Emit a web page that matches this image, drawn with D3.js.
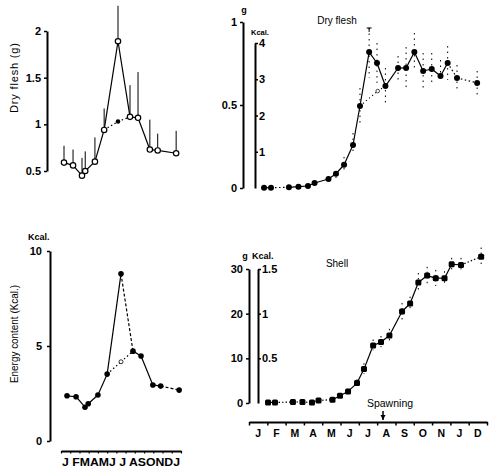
<!DOCTYPE html>
<html><head><meta charset="utf-8">
<script src="https://cdn.jsdelivr.net/npm/d3@7"></script>
<style>
body{margin:0;background:#fff;}
svg{display:block;font-family:"Liberation Sans",Arial,sans-serif;}
</style></head><body>
<svg id="c" width="500" height="474"></svg>
<script>
// ---------- data ----------
const monthLettersLeft = "J FMAMJ J ASONDJ";
const monthsRight = ["J","F","M","A","M","J","J","A","S","O","N","J","D"];

// left panels: sampling time (months from start of January)
const leftT      = [0.65, 1.63, 2.6, 2.95, 4.0, 5.0, 6.5, 7.8, 8.67, 9.95, 10.8, 12.8];
const dryFlesh   = [0.59, 0.56, 0.45, 0.50, 0.60, 0.94, 1.89, 1.08, 1.07, 0.73, 0.72, 0.69];
const dryFleshHi = [0.77, 0.73, 0.64, 0.71, 0.86, 1.17, 2.27, 1.42, 1.56, 1.05, 0.90, 0.93];
const dryFleshAlt = 1.03;     // value at leftT[6] without spawners
const energy     = [2.38, 2.33, 1.78, 1.96, 2.42, 3.52, 8.8, 4.73, 4.47, 2.95, 2.89, 2.68];
const energyAlt  = 4.17;

// right panels
const rightT = [1.04, 1.42, 2.40, 2.92, 3.44, 3.8, 4.56, 4.97, 5.41, 5.90, 6.28, 6.78, 7.21, 7.67, 8.36, 8.80, 9.25, 9.73, 10.2, 10.68, 11.07, 11.58, 12.68];
const dryFleshR   = [0.002, 0.002, 0.004, 0.008, 0.012, 0.03, 0.054, 0.086, 0.14, 0.259, 0.494, 0.819, 0.753, 0.614, 0.723, 0.723, 0.819, 0.705, 0.717, 0.675, 0.753, 0.663, 0.633];
const dryFleshRHi = [null, null, null, null, null, null, 0.07, 0.10, 0.187, 0.331, 0.602, 0.964, 0.873, 0.723, 0.795, 0.849, 0.934, 0.813, 0.813, 0.771, 0.855, 0.741, 0.705];
const dryFleshRLo = [null, null, null, null, null, null, 0.04, 0.06, 0.108, 0.199, 0.392, 0.663, 0.633, 0.512, 0.651, 0.602, 0.711, 0.602, 0.620, 0.651, 0.651, 0.578, 0.542];
const dryFleshRAlt = {t: 7.25, v: 0.584};
const shell   = [0.13, 0.13, 0.22, 0.22, 0.13, 0.58, 0.74, 1.63, 2.59, 4.46, 7.59, 12.88, 13.64, 15.13, 20.49, 22.28, 26.97, 28.53, 27.95, 27.95, 31.07, 30.9, 32.76];
const shellHi = [null, null, null, null, null, null, null, null, 3.2, 5.3, 8.9, 14.2, 15.0, 16.6, 22.4, 23.8, 29.1, 30.5, 29.8, 29.5, 32.5, 32.5, 34.8];
const shellLo = [null, null, null, null, null, null, null, null, 2.0, 3.8, 6.5, 11.8, 12.5, 13.8, 18.6, 20.5, 25.3, 26.5, 26.2, 26.2, 29.5, 29.2, 30.8];
const spawningT = 7.32;

// ---------- drawing ----------
const svg = d3.select("#c");
svg.append("rect").attr("width",500).attr("height",474).attr("fill","#fff");

function styleAxis(g, tickW){
  g.select(".domain").attr("stroke","#000").attr("stroke-width",2);
  g.selectAll(".tick line").attr("stroke","#000").attr("stroke-width",tickW||1.5);
  g.selectAll(".tick text").attr("fill","#000").attr("font-size",11).attr("font-weight","bold")
   .attr("font-family","'Liberation Sans',Arial,sans-serif");
}
function segs(g, xs, ys, x, y, dashed, dash){
  for(let i=0;i<xs.length-1;i++){
    g.append("line").attr("x1",x(xs[i])).attr("y1",y(ys[i])).attr("x2",x(xs[i+1])).attr("y2",y(ys[i+1]))
     .attr("stroke","#000").attr("stroke-width",1.2)
     .attr("stroke-dasharray", dashed.has(i) ? (dash||"2,2") : null);
  }
}
const lbl = (t, x, y, size, anchor, weight) => svg.append("text").text(t).attr("x",x).attr("y",y)
   .attr("font-size",size).attr("text-anchor",anchor||"start").attr("font-weight",weight||"bold").attr("fill","#000");

// ===== Top-left: Dry flesh (g) =====
{
  const x = d3.scaleLinear([0,13],[58,178]);
  const y = d3.scaleLinear([0.5,2],[171,31]);
  const ax = svg.append("g").attr("transform","translate(47,0)")
    .call(d3.axisLeft(y).tickValues([0.5,1,1.5,2]).tickFormat(d3.format("~g")).tickSize(3).tickSizeOuter(0).tickPadding(3));
  styleAxis(ax);
  const g = svg.append("g");
  leftT.forEach((t,i)=>{
    g.append("line").attr("x1",x(t)).attr("x2",x(t)).attr("y1",y(dryFlesh[i])).attr("y2",y(dryFleshHi[i]))
     .attr("stroke","#000").attr("stroke-width",1);
  });
  const ax2 = [leftT[5], leftT[6], leftT[7]], ay2 = [dryFlesh[5], dryFleshAlt, dryFlesh[7]];
  segs(g, ax2, ay2, x, y, new Set([0,1]), "1.5,2.5");
  g.append("circle").attr("cx",x(leftT[6])).attr("cy",y(dryFleshAlt)).attr("r",2.3).attr("fill","#000");
  segs(g, leftT, dryFlesh, x, y, new Set());
  g.selectAll("circle.o").data(leftT).join("circle").attr("class","o")
    .attr("cx",d=>x(d)).attr("cy",(d,i)=>y(dryFlesh[i])).attr("r",2.7)
    .attr("fill","#fff").attr("stroke","#000").attr("stroke-width",1.2);
  svg.append("text").text("Dry flesh (g)").attr("transform","translate(18,78) rotate(-90)")
    .attr("text-anchor","middle").attr("font-size",11).attr("textLength",70).attr("fill","#000");
}

// ===== Bottom-left: Energy content =====
{
  const x = d3.scaleLinear([0,13],[61,181]);
  const y = d3.scaleLinear([0,10],[441,251]);
  const ay = svg.append("g").attr("transform","translate(50,0)")
    .call(d3.axisLeft(y).tickValues([0,5,10]).tickSize(3).tickSizeOuter(0).tickPadding(5));
  styleAxis(ay);
  const axb = svg.append("g").attr("transform","translate(0,451)")
    .call(d3.axisBottom(x).tickValues(d3.range(0,14)).tickFormat("").tickSize(2.5).tickSizeOuter(0));
  styleAxis(axb, 1.2);
  svg.append("text").text(monthLettersLeft).attr("x",x(0)+1).attr("y",466).attr("font-size",11)
    .attr("font-weight","bold").attr("textLength",x(13)-x(0)-2).attr("lengthAdjust","spacingAndGlyphs").attr("fill","#000");
  lbl("Kcal.", 28, 240, 9);
  svg.append("text").text("Energy content (Kcal.)").attr("transform","translate(18,334) rotate(-90)")
    .attr("text-anchor","middle").attr("font-size",10.5).attr("textLength",98).attr("lengthAdjust","spacingAndGlyphs").attr("fill","#000");
  const g = svg.append("g");
  segs(g, [leftT[5],leftT[6],leftT[7]], [energy[5],energyAlt,energy[7]], x, y, new Set([0,1]), "1.5,2.5");
  g.append("circle").attr("cx",x(leftT[6])).attr("cy",y(energyAlt)).attr("r",2).attr("fill","#fff").attr("stroke","#000").attr("stroke-width",0.8);
  segs(g, leftT, energy, x, y, new Set([6,10]), "3,2");
  g.selectAll("circle.f").data(leftT).join("circle").attr("class","f")
    .attr("cx",d=>x(d)).attr("cy",(d,i)=>y(energy[i])).attr("r",2.8).attr("fill","#000");
}

// ===== Top-right: Dry flesh =====
{
  const x = d3.scaleLinear([0,13],[245,483]);
  const yg = d3.scaleLinear([0,1],[188,22]);
  const yk = d3.scaleLinear([0,4],[188,43]);
  const a1 = svg.append("g").attr("transform","translate(243,0)")
    .call(d3.axisLeft(yg).tickValues([0,0.5,1]).tickFormat(d3.format("~g")).tickSize(3).tickSizeOuter(0).tickPadding(3));
  styleAxis(a1);
  const a2 = svg.append("g").attr("transform","translate(255,0)")
    .call(d3.axisRight(yk).tickValues([1,2,3,4]).tickFormat(d3.format("~g")).tickSize(3).tickSizeOuter(0).tickPadding(1));
  styleAxis(a2);
  lbl("g", 244, 13, 9, "middle");
  lbl("Kcal.", 251, 35, 7.5);
  lbl("Dry flesh", 337, 24, 10, "middle", "normal");
  const g = svg.append("g");
  rightT.forEach((t,i)=>{
    if(dryFleshRHi[i]==null) return;
    g.append("line").attr("x1",x(t)).attr("x2",x(t)).attr("y1",yg(dryFleshRHi[i])).attr("y2",yg(dryFleshRLo[i]))
     .attr("stroke","#000").attr("stroke-width",1).attr("stroke-dasharray","1.5,4");
  });
  g.append("path").attr("d",`M${x(rightT[11])-2.5},${yg(dryFleshRHi[11])}h5M${x(rightT[11])},${yg(dryFleshRHi[11])}v4`).attr("stroke","#000").attr("stroke-width",1);
  segs(g, [rightT[10], dryFleshRAlt.t, rightT[13]], [dryFleshR[10], dryFleshRAlt.v, dryFleshR[13]], x, yg, new Set([0,1]), "1,3");
  g.append("circle").attr("cx",x(dryFleshRAlt.t)).attr("cy",yg(dryFleshRAlt.v)).attr("r",1.8).attr("fill","#fff").attr("stroke","#000").attr("stroke-width",0.7);
  segs(g, rightT, dryFleshR, x, yg, new Set([1,20,21]), "1.5,2.5");
  g.selectAll("circle.f").data(rightT).join("circle").attr("class","f")
    .attr("cx",d=>x(d)).attr("cy",(d,i)=>yg(dryFleshR[i])).attr("r",3).attr("fill","#000");
}

// ===== Bottom-right: Shell =====
{
  const x = d3.scaleLinear([0,13],[249,487]);
  const yg = d3.scaleLinear([0,30],[403,269]);
  const yk = d3.scaleLinear([0,1.5],[403,269]);
  const a1 = svg.append("g").attr("transform","translate(249,0)")
    .call(d3.axisLeft(yg).tickValues([0,10,20,30]).tickSize(3).tickSizeOuter(0).tickPadding(3));
  styleAxis(a1);
  const a2 = svg.append("g").attr("transform","translate(258,0)")
    .call(d3.axisRight(yk).tickValues([0.5,1,1.5]).tickFormat(d3.format("~g")).tickSize(3).tickSizeOuter(0).tickPadding(1));
  styleAxis(a2);
  lbl("g", 245, 259, 9, "middle");
  lbl("Kcal.", 252, 259, 9);
  lbl("Shell", 337, 267, 10, "middle", "normal");
  const axb = svg.append("g").attr("transform","translate(0,422)")
    .call(d3.axisBottom(x).tickValues(d3.range(0,14)).tickFormat("").tickSize(3.5).tickSizeOuter(0));
  styleAxis(axb, 1.5);
  svg.append("g").selectAll("text").data(monthsRight).join("text").text(d=>d)
    .attr("x",(d,i)=>x(i+0.5)).attr("y",437).attr("text-anchor","middle").attr("font-size",10.5).attr("font-weight","bold").attr("fill","#000");
  lbl("Spawning", x(spawningT)+7, 407, 10.5, "middle", "normal");
  svg.append("line").attr("x1",x(spawningT)).attr("x2",x(spawningT)).attr("y1",411).attr("y2",420).attr("stroke","#000").attr("stroke-width",1.5);
  svg.append("path").attr("d",`M${x(spawningT)-2.5},${415}L${x(spawningT)+2.5},${415}L${x(spawningT)},${420}Z`).attr("fill","#000");
  const g = svg.append("g");
  rightT.forEach((t,i)=>{
    if(shellHi[i]==null) return;
    g.append("line").attr("x1",x(t)).attr("x2",x(t)).attr("y1",yg(shellHi[i])).attr("y2",yg(shellLo[i]))
     .attr("stroke","#000").attr("stroke-width",1).attr("stroke-dasharray","1.5,3.5");
  });
  segs(g, rightT, shell, x, yg, new Set([1,2,3,4,5,21]), "1.5,2");
  g.selectAll("rect.f").data(rightT).join("rect").attr("class","f")
    .attr("x",d=>x(d)-3).attr("y",(d,i)=>yg(shell[i])-3).attr("width",6).attr("height",6).attr("rx",1.5).attr("fill","#000");
}
</script>
</body></html>
